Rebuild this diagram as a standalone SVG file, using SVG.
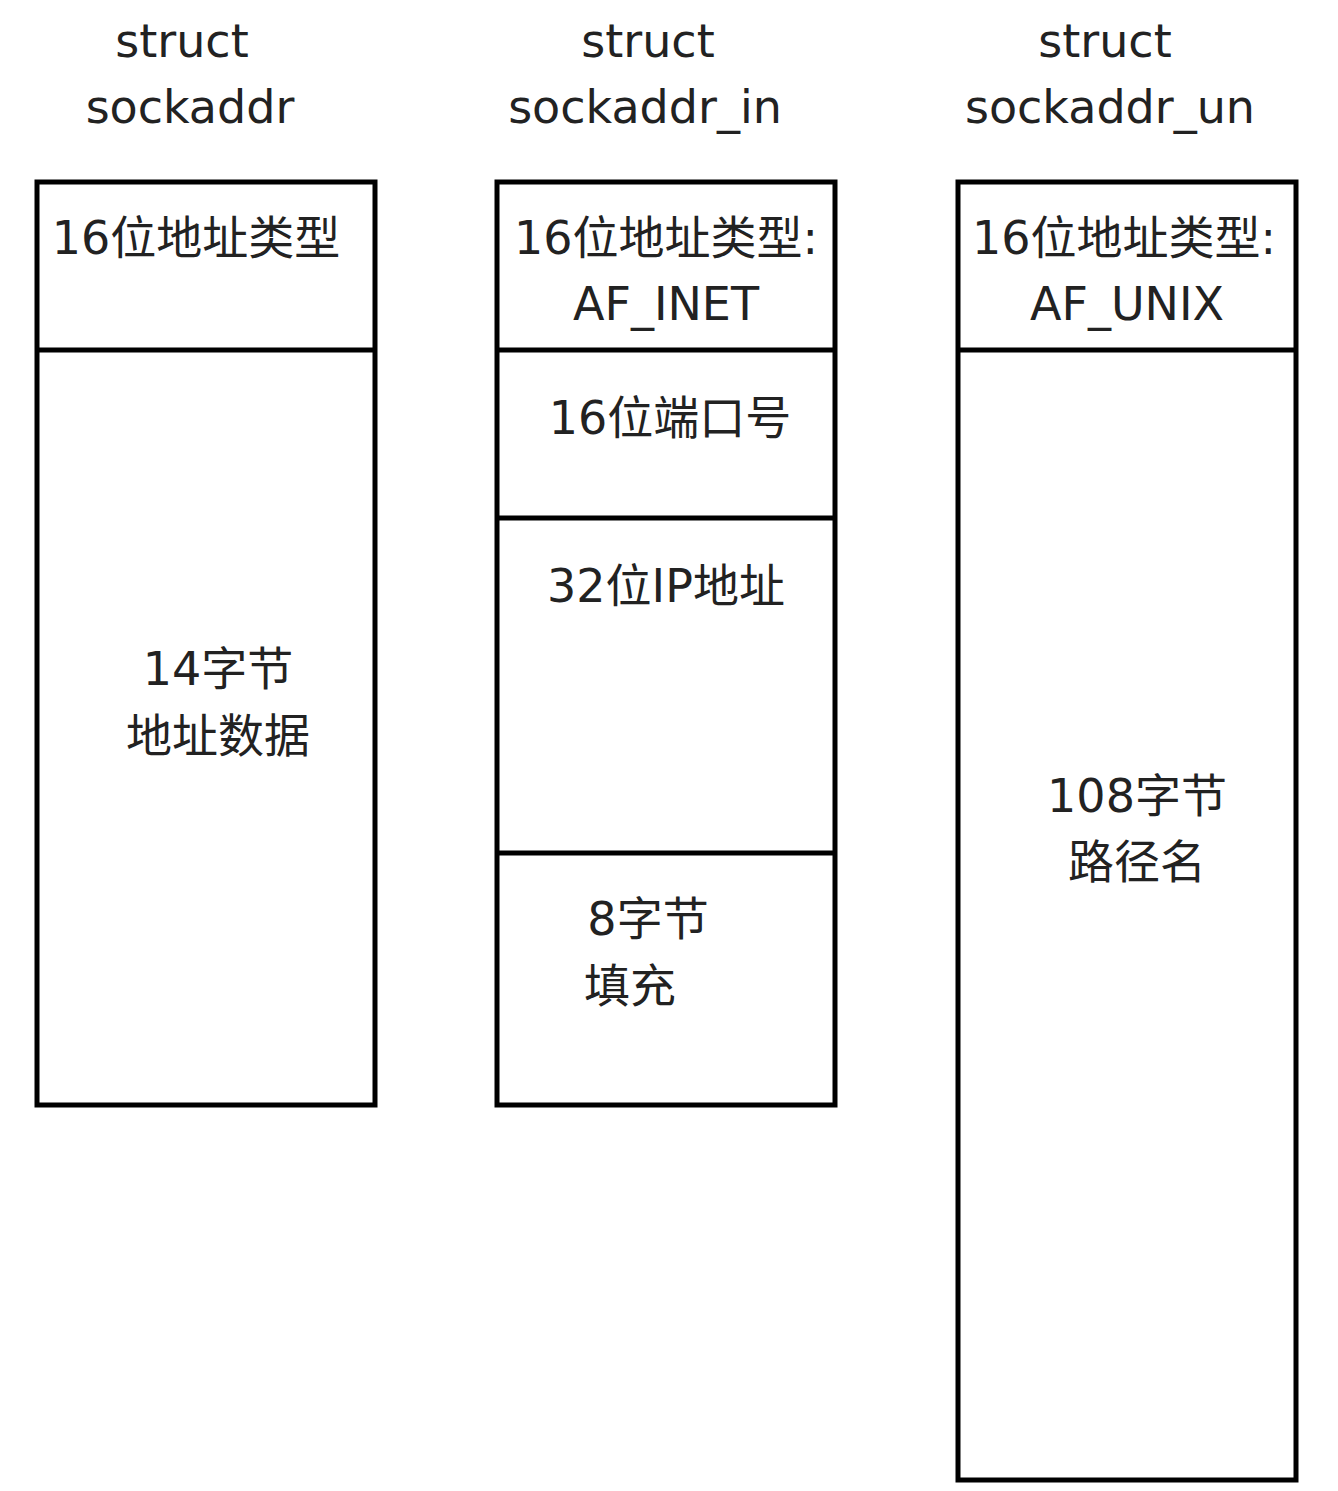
<svg xmlns="http://www.w3.org/2000/svg" width="1338" height="1491" viewBox="0 0 1338 1491">
<style>
.b{fill:#fff;stroke:#000;stroke-width:5}
.l{stroke:#000;stroke-width:5}
text{font-family:"DejaVu Sans","Noto Sans CJK SC",sans-serif;font-size:46px;fill:#222}
</style>
<rect width="1338" height="1491" fill="#fff"/>
<g id="t1"><text x="182" y="57" text-anchor="middle">struct</text><text x="190" y="123" text-anchor="middle">sockaddr</text></g>
<g id="t2"><text x="648" y="57" text-anchor="middle">struct</text><text x="645" y="123" text-anchor="middle">sockaddr_in</text></g>
<g id="t3"><text x="1105" y="57" text-anchor="middle">struct</text><text x="1110" y="123" text-anchor="middle">sockaddr_un</text></g>
<g id="sockaddr">
<rect class="b" x="37" y="182" width="338" height="923"/>
<line class="l" x1="37" y1="350" x2="375" y2="350"/>
<text x="196" y="254" text-anchor="middle">16位地址类型</text>
<text x="218" y="685" text-anchor="middle">14字节</text>
<text x="218" y="752" text-anchor="middle">地址数据</text>
</g>
<g id="sockaddr_in">
<rect class="b" x="497" y="182" width="338" height="923"/>
<line class="l" x1="497" y1="350" x2="835" y2="350"/>
<line class="l" x1="497" y1="518" x2="835" y2="518"/>
<line class="l" x1="497" y1="853" x2="835" y2="853"/>
<text x="666" y="254" text-anchor="middle">16位地址类型:</text>
<text x="666" y="320" text-anchor="middle">AF_INET</text>
<text x="670" y="434" text-anchor="middle">16位端口号</text>
<text x="666" y="602" text-anchor="middle">32位IP地址</text>
<text x="648" y="935" text-anchor="middle">8字节</text>
<text x="584" y="1002">填充</text>
</g>
<g id="sockaddr_un">
<rect class="b" x="958" y="182" width="338" height="1298"/>
<line class="l" x1="958" y1="350" x2="1296" y2="350"/>
<text x="1124" y="254" text-anchor="middle">16位地址类型:</text>
<text x="1127" y="320" text-anchor="middle">AF_UNIX</text>
<text x="1137" y="812" text-anchor="middle">108字节</text>
<text x="1137" y="878" text-anchor="middle">路径名</text>
</g>
<g id="connectors"/>
</svg>
